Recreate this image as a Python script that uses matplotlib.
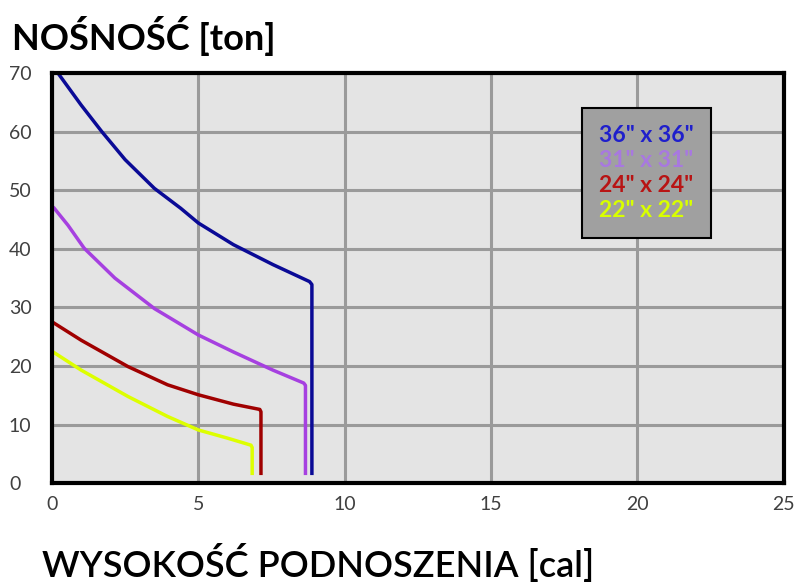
import matplotlib
matplotlib.use("Agg")
import matplotlib.pyplot as plt

# wysokość [cal] / nośność [ton]
x_36 = [0.2, 1.0, 1.7, 2.5, 3.5, 4.4, 5.0, 6.2, 7.55, 8.8, 8.88, 8.88]
y_36 = [70.0, 64.5, 60.0, 55.2, 50.3, 46.9, 44.4, 40.7, 37.3, 34.4, 33.9, 1.7]
x_31 = [0.08, 0.55, 1.1, 2.15, 3.5, 5.0, 6.2, 7.55, 8.6, 8.66, 8.66]
y_31 = [46.9, 44.0, 40.1, 35.0, 29.8, 25.3, 22.4, 19.3, 17.1, 16.7, 1.7]
x_24 = [0.08, 1.0, 2.6, 3.95, 5.0, 6.2, 7.1, 7.14, 7.14]
y_24 = [27.3, 24.4, 19.9, 16.8, 15.1, 13.5, 12.6, 12.2, 1.7]
x_22 = [0.04, 1.0, 2.6, 3.95, 5.0, 6.0, 6.8, 6.84, 6.84]
y_22 = [22.4, 19.3, 14.8, 11.4, 9.1, 7.7, 6.5, 6.1, 1.7]

labels = ['36" x 36"', '31" x 31"', '24" x 24"', '22" x 22"']
line_colors = ['#0a0a96', '#a640e0', '#a00000', '#ddff00']
text_colors = ['#1f1fcc', '#a878e0', '#b81414', '#d8ff00']

xticks = [0, 5, 10, 15, 20, 25]
yticks = [0, 10, 20, 30, 40, 50, 60, 70]

plt.rcParams['font.family'] = ['Lato', 'DejaVu Sans']

fig = plt.figure(figsize=(7.99, 5.83), dpi=100)
ax = fig.add_axes([0.065, 0.171, 0.916, 0.704])
ax.set_facecolor('#e4e4e4')

series = [(x_36, y_36), (x_31, y_31), (x_24, y_24), (x_22, y_22)]
handles = []
for (xs, ys), c in zip(series, line_colors):
    h, = ax.plot(xs, ys, color=c, lw=2.5, solid_joinstyle='round')
    handles.append(h)

ax.set_xlim(0, 25)
ax.set_ylim(0, 70)
ax.set_xticks(xticks)
ax.set_yticks(yticks)
ax.grid(True, color='#9a9a9a', lw=2.2)
ax.set_axisbelow(True)
for s in ax.spines.values():
    s.set_linewidth(3)
    s.set_color('black')
ax.tick_params(length=0, labelsize=14, labelcolor='#404040')
ax.tick_params(axis='x', pad=9)
ax.tick_params(axis='y', pad=31)
for lab in ax.get_yticklabels():
    lab.set_horizontalalignment('left')

fig.text(0.015, 0.915, 'NOŚNOŚĆ [ton]', fontsize=26, fontweight='bold', color='black')
fig.text(0.052, 0.01, 'WYSOKOŚĆ PODNOSZENIA [cal]', fontsize=26, fontweight='semibold', color='black')

leg = ax.legend(handles, labels, loc='upper left', bbox_to_anchor=(0.724, 0.915),
                borderaxespad=0, handlelength=0, handletextpad=0, frameon=True, fancybox=False,
                facecolor='#a0a0a0', edgecolor='black', framealpha=1,
                borderpad=0.75, labelspacing=0.17, prop={'size': 16.5, 'weight': 'bold'})
leg.get_frame().set_linewidth(1.5)
for h in leg.legend_handles:
    h.set_visible(False)
for t, c in zip(leg.get_texts(), text_colors):
    t.set_color(c)

fig.savefig('out.png', dpi=100)
